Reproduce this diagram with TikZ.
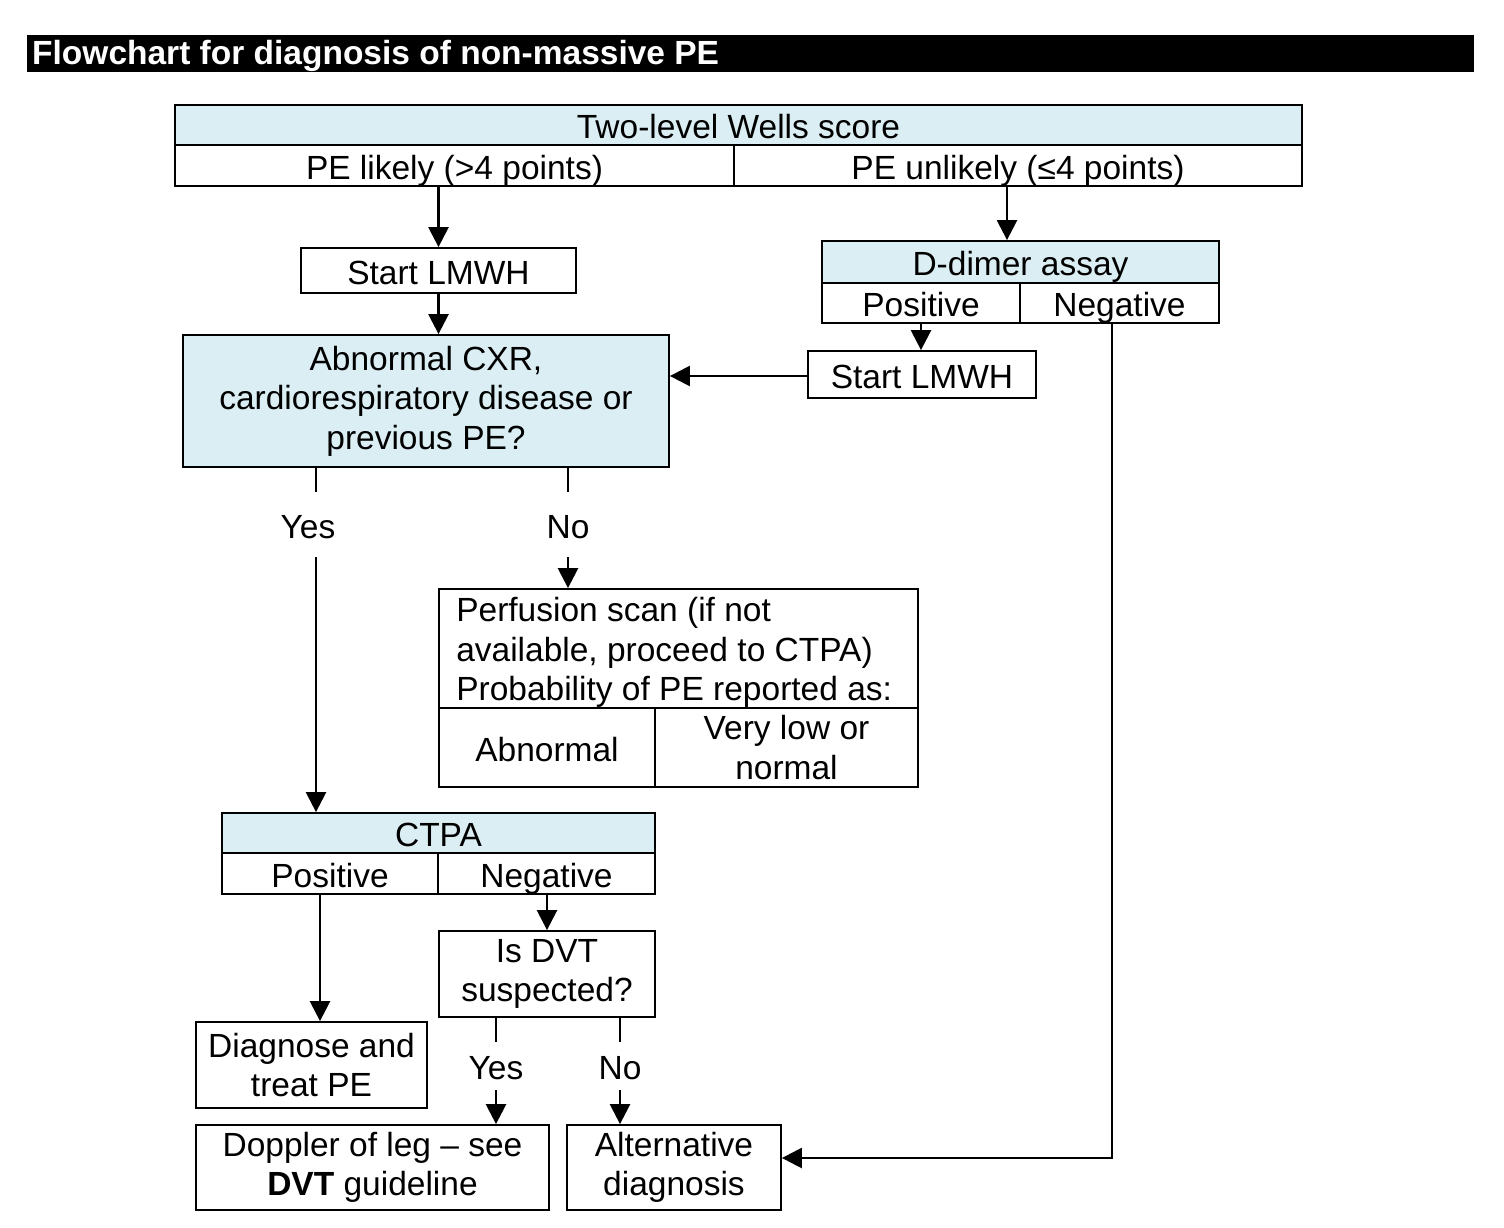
\documentclass[tikz,border=0pt]{standalone}
\usepackage{fontspec}
\setmainfont{Liberation Sans}
\usetikzlibrary{arrows.meta}
\definecolor{hdrblue}{HTML}{DAEEF3}
\begin{document}
\begin{tikzpicture}[x=1pt,y=-1pt,
  every node/.style={font=\fontsize{33.5}{39.5}\selectfont, inner sep=0pt},
  sz/.style 2 args={minimum width=#1pt, minimum height=#2pt},
  box/.style={draw, line width=1.8pt, align=center},
  one/.style={text height=27pt, text depth=0pt},
  hdr/.style={box, one, fill=hdrblue},
  cell/.style={box, one},
  lbl/.style={one},
  ln/.style={line width=2.5pt},
  conn/.style={ln, -{Triangle[length=20pt,width=20pt]}}]
\useasboundingbox (0,0) rectangle (1504,1228);
\fill[white] (0,0) rectangle (1504,1228);
% title bar
\node[fill=black, sz={1447}{37}, anchor=north west] (bar) at (27,35) {};
\node[anchor=base west, text=white, font=\fontsize{33.5}{39.5}\selectfont\bfseries] (title) at (32,65) {Flowchart for diagnosis of non-massive PE};
% Wells score
\node[hdr, sz={1127}{40}] (wells) at (738.5,125) {Two-level Wells score};
\node[cell, sz={559}{41}] (likely) at (454.5,165.5) {PE likely (>4 points)};
\node[cell, sz={568}{41}] (unlikely) at (1018,165.5) {PE unlikely (≤4 points)};
% left branch
\node[cell, sz={275}{45}] (startL) at (438.5,270.5) {Start LMWH};
\node[box, fill=hdrblue, sz={486}{132}] (cxr) at (426,401) {Abnormal CXR,\\cardiorespiratory disease or\\previous PE?};
% D-dimer
\node[hdr, sz={397}{42}] (ddim) at (1020.5,262) {D-dimer assay};
\node[cell, sz={198}{40}] (dpos) at (921,303) {Positive};
\node[cell, sz={199}{40}] (dneg) at (1119.5,303) {Negative};
\node[cell, sz={228}{47}] (startR) at (922,374.5) {Start LMWH};
% Yes / No labels under CXR
\node[lbl, minimum height=65pt] (yes1) at (308,524.5) {Yes};
\node[lbl, minimum height=65pt] (no1) at (568,524.5) {No};
\coordinate (yx1) at (316,0);
% Perfusion
\node[box, sz={479}{119}] (perf) at (678.5,648.5) {};
\node[anchor=west, align=left] (perftxt) at ([xshift=18pt,yshift=-4pt]perf.west) {Perfusion scan (if not\\available, proceed to CTPA)\\Probability of PE reported as:};
\node[cell, sz={216}{79}] (pabn) at (547,747.5) {Abnormal};
\node[box, sz={263}{79}] (plow) at (786.5,747.5) {Very low or\\normal};
% CTPA
\node[hdr, sz={433}{40}] (ctpa) at (438.5,833) {CTPA};
\node[cell, sz={216}{41}] (cpos) at (330,873.5) {Positive};
\node[cell, sz={217}{41}] (cneg) at (546.5,873.5) {Negative};
\node[box, sz={216}{86}] (dvt) at (547,974) {Is DVT\\suspected?};
\node[box, sz={231}{86}] (diag) at (311.5,1065) {Diagnose and\\treat PE};
\node[lbl, minimum height=48pt] (yes2) at (496,1066) {Yes};
\node[lbl, minimum height=48pt] (no2) at (620,1066) {No};
\node[box, sz={353}{85}] (doppler) at (372.5,1167.5) {Doppler of leg – see\\\textbf{DVT} guideline};
\node[box, sz={214}{85}] (alt) at (674,1167.5) {Alternative\\diagnosis};
\coordinate (nx) at (1112,0);
\coordinate (ux) at (1007,0);
% connectors
\draw[conn] (startL.north |- likely.south) -- (startL.north);
\draw[conn] (startL.south) -- (startL.south |- cxr.north);
\draw[conn] (ux |- unlikely.south) -- (ux |- ddim.north);
\draw[conn] (dpos.south) -- (dpos.south |- startR.north);
\draw[conn] ([yshift=-1.5pt]startR.west) -- ([yshift=-1.5pt]startR.west -| cxr.east);
\draw[conn] (nx |- dneg.south) |- ([yshift=9.5pt]alt.east);
\draw[ln] (yx1 |- cxr.south) -- (yx1 |- yes1.north);
\draw[conn] (yx1 |- yes1.south) -- (yx1 |- ctpa.north);
\draw[ln] (no1.north |- cxr.south) -- (no1.north);
\draw[conn] (no1.south) -- (no1.south |- perf.north);
\draw[conn] (cpos.south -| 320,0) -- (diag.north -| 320,0);
\draw[conn] (cneg.south -| dvt.north) -- (dvt.north);
\draw[ln] (yes2.north |- dvt.south) -- (yes2.north);
\draw[conn] (yes2.south) -- (yes2.south |- doppler.north);
\draw[ln] (no2.north |- dvt.south) -- (no2.north);
\draw[conn] (no2.south) -- (no2.south |- alt.north);
\end{tikzpicture}
\end{document}
